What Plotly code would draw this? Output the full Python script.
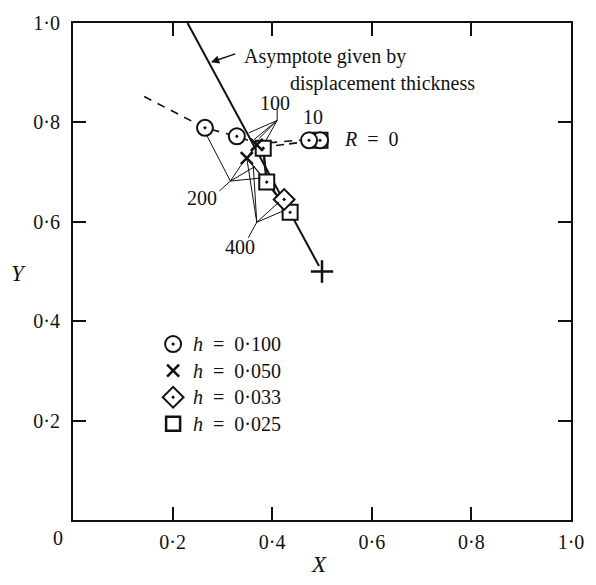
import plotly.graph_objects as go

# Computed end points (X, Y) for each mesh size h, keyed by Reynolds number R
circle_R = [0, 10, 100, 200]
circle_x = [0.496, 0.474, 0.329, 0.265]
circle_y = [0.764, 0.764, 0.772, 0.789]

cross_R = [100, 200]
cross_x = [0.369, 0.349]
cross_y = [0.755, 0.728]

diamond_R = [400]
diamond_x = [0.424]
diamond_y = [0.645]

square_R = [0, 100, 200, 400]
square_x = [0.496, 0.382, 0.389, 0.436]
square_y = [0.764, 0.748, 0.680, 0.619]

# Trend of the h = 0.100 results extended towards large R
circle_trend_x = [0.143, 0.265, 0.329, 0.372, 0.474]
circle_trend_y = [0.852, 0.789, 0.772, 0.757, 0.766]
square_trend_x = [0.382, 0.474]
square_trend_y = [0.750, 0.762]

# Asymptote given by the displacement thickness, ending at the point (0.5, 0.5)
asym_x = [0.230, 0.494]
asym_y = [1.000, 0.511]
plus_x = [0.5]
plus_y = [0.5]

tick_vals = [0.2, 0.4, 0.6, 0.8, 1.0]
tick_text = ["0·2", "0·4", "0·6", "0·8", "1·0"]

h_labels = ["0·100", "0·050", "0·033", "0·025"]

FONT = "Liberation Serif, Times New Roman, serif"
BLACK = "#111111"
NB = "\u00a0"

circle_mk = dict(symbol="circle-dot", size=16, color="white", line=dict(color=BLACK, width=2))
cross_mk = dict(symbol="x-thin-open", size=12, color=BLACK, line=dict(color=BLACK, width=2.5))
diamond_mk = dict(symbol="diamond-dot", size=16, color="white", line=dict(color=BLACK, width=2))
square_mk = dict(symbol="square-dot", size=15, color="white", line=dict(color=BLACK, width=2))
key_marks = [circle_mk, cross_mk, diamond_mk,
             dict(symbol="square", size=14, color="white", line=dict(color=BLACK, width=2.5))]

fig = go.Figure()

# connecting lines
fig.add_trace(go.Scatter(x=circle_trend_x, y=circle_trend_y, mode="lines",
                         line=dict(color=BLACK, width=1.6, dash="8px,7px"),
                         hoverinfo="skip"))
fig.add_trace(go.Scatter(x=square_trend_x, y=square_trend_y, mode="lines",
                         line=dict(color=BLACK, width=1.6, dash="8px,5px"),
                         hoverinfo="skip"))
fig.add_trace(go.Scatter(x=asym_x, y=asym_y, mode="lines",
                         line=dict(color=BLACK, width=2), hoverinfo="skip"))
fig.add_trace(go.Scatter(x=cross_x + [square_x[2]], y=cross_y + [square_y[2]], mode="lines",
                         line=dict(color=BLACK, width=1.2), hoverinfo="skip"))
fig.add_trace(go.Scatter(x=square_x[1:], y=square_y[1:], mode="lines",
                         line=dict(color=BLACK, width=2.4), hoverinfo="skip"))

# leader lines from the R labels
leaders = [
    # R = 100
    ((0.410, 0.826), (0.410, 0.804)),
    ((0.410, 0.804), (0.353, 0.779)),
    ((0.410, 0.804), (0.363, 0.765)),
    ((0.410, 0.804), (0.373, 0.767)),
    ((0.410, 0.804), (0.387, 0.763)),
    # R = 200
    ((0.294, 0.662), (0.316, 0.682)),
    ((0.316, 0.682), (0.268, 0.775)),
    ((0.316, 0.682), (0.349, 0.731)),
    ((0.316, 0.682), (0.365, 0.711)),
    ((0.316, 0.682), (0.377, 0.688)),
    # R = 400
    ((0.352, 0.568), (0.369, 0.599)),
    ((0.369, 0.599), (0.420, 0.621)),
    ((0.369, 0.599), (0.414, 0.640)),
    ((0.369, 0.599), (0.349, 0.728)),
    ((0.369, 0.599), (0.362, 0.712)),
]
for (x0, y0), (x1, y1) in leaders:
    fig.add_shape(type="line", xref="x", yref="y", x0=x0, y0=y0, x1=x1, y1=y1,
                  line=dict(color=BLACK, width=1))

# markers
fig.add_trace(go.Scatter(x=square_x, y=square_y, mode="markers", marker=square_mk))
fig.add_trace(go.Scatter(x=circle_x, y=circle_y, mode="markers", marker=circle_mk))
fig.add_trace(go.Scatter(x=cross_x, y=cross_y, mode="markers", marker=cross_mk))
fig.add_trace(go.Scatter(x=diamond_x, y=diamond_y, mode="markers", marker=diamond_mk))
fig.add_trace(go.Scatter(x=plus_x, y=plus_y, mode="markers",
                         marker=dict(symbol="cross-thin-open", size=16, color=BLACK,
                                     line=dict(color=BLACK, width=2.5))))

# key: one symbol per mesh size
key_x, key_text_x, key_top, key_step = 0.201, 0.236, 0.354, 0.0535
for i, (mk, lab) in enumerate(zip(key_marks, h_labels)):
    ky = key_top - i * key_step
    fig.add_trace(go.Scatter(x=[key_x], y=[ky], mode="markers", marker=mk, hoverinfo="skip"))
    fig.add_annotation(x=key_text_x, y=ky, xref="x", yref="y", xanchor="left",
                       yanchor="middle",
                       text=f"<i>h</i>{NB}{NB}={NB}{NB}{lab}", showarrow=False,
                       font=dict(family=FONT, size=20, color=BLACK))

# R labels
txt = dict(font=dict(family=FONT, size=20, color=BLACK), showarrow=False,
           yanchor="middle")
fig.add_annotation(x=0.406, y=0.840, xref="x", yref="y", text="100", xanchor="center", **txt)
fig.add_annotation(x=0.481, y=0.810, xref="x", yref="y", text="10", xanchor="center", **txt)
fig.add_annotation(x=0.260, y=0.648, xref="x", yref="y", text="200", xanchor="center", **txt)
fig.add_annotation(x=0.335, y=0.549, xref="x", yref="y", text="400", xanchor="center", **txt)
fig.add_annotation(x=0.540, y=0.767, xref="x", yref="y",
                   text=f"<i>R</i>{NB}{NB}={NB}{NB}0", xanchor="left", **txt)

# asymptote caption with arrow
fig.add_annotation(x=0.339, y=0.933, xref="x", yref="y", xanchor="left",
                   text="Asymptote given by", **txt)
fig.add_annotation(x=0.431, y=0.879, xref="x", yref="y", xanchor="left",
                   text="displacement thickness", **txt)
fig.add_annotation(x=0.277, y=0.921, xref="x", yref="y", ax=0.329, ay=0.939,
                   axref="x", ayref="y", text="", showarrow=True,
                   arrowhead=2, arrowsize=1.1, arrowwidth=1.5, arrowcolor=BLACK)

# axis titles and the shared origin label (explicit anchors, centred on the point)
title_font = dict(family=FONT, size=23, color=BLACK)
fig.add_annotation(x=-0.110, y=0.496, xref="paper", yref="paper", text="<i>Y</i>",
                   xanchor="center", yanchor="middle", font=title_font, showarrow=False)
fig.add_annotation(x=0.494, y=-0.089, xref="paper", yref="paper", text="<i>X</i>",
                   xanchor="center", yanchor="middle", font=title_font, showarrow=False)
fig.add_annotation(x=-0.031, y=-0.036, xref="paper", yref="paper", text="0",
                   xanchor="center", yanchor="middle",
                   font=dict(family=FONT, size=20, color=BLACK), showarrow=False)

axis = dict(range=[0, 1], showgrid=False, zeroline=False, showline=True,
            linecolor=BLACK, linewidth=2, mirror="allticks", ticks="inside",
            ticklen=13, tickwidth=2, tickcolor=BLACK, tickvals=tick_vals,
            ticktext=tick_text, tickfont=dict(family=FONT, size=20, color=BLACK),
            fixedrange=True)

fig.update_layout(
    width=596, height=585,
    margin=dict(l=73, r=15, t=14, b=65),
    paper_bgcolor="white", plot_bgcolor="white",
    xaxis=dict(axis, ticklabelstandoff=3),
    yaxis=dict(axis, ticklabelstandoff=7),
    showlegend=False,
)

fig.write_html("out.html")
